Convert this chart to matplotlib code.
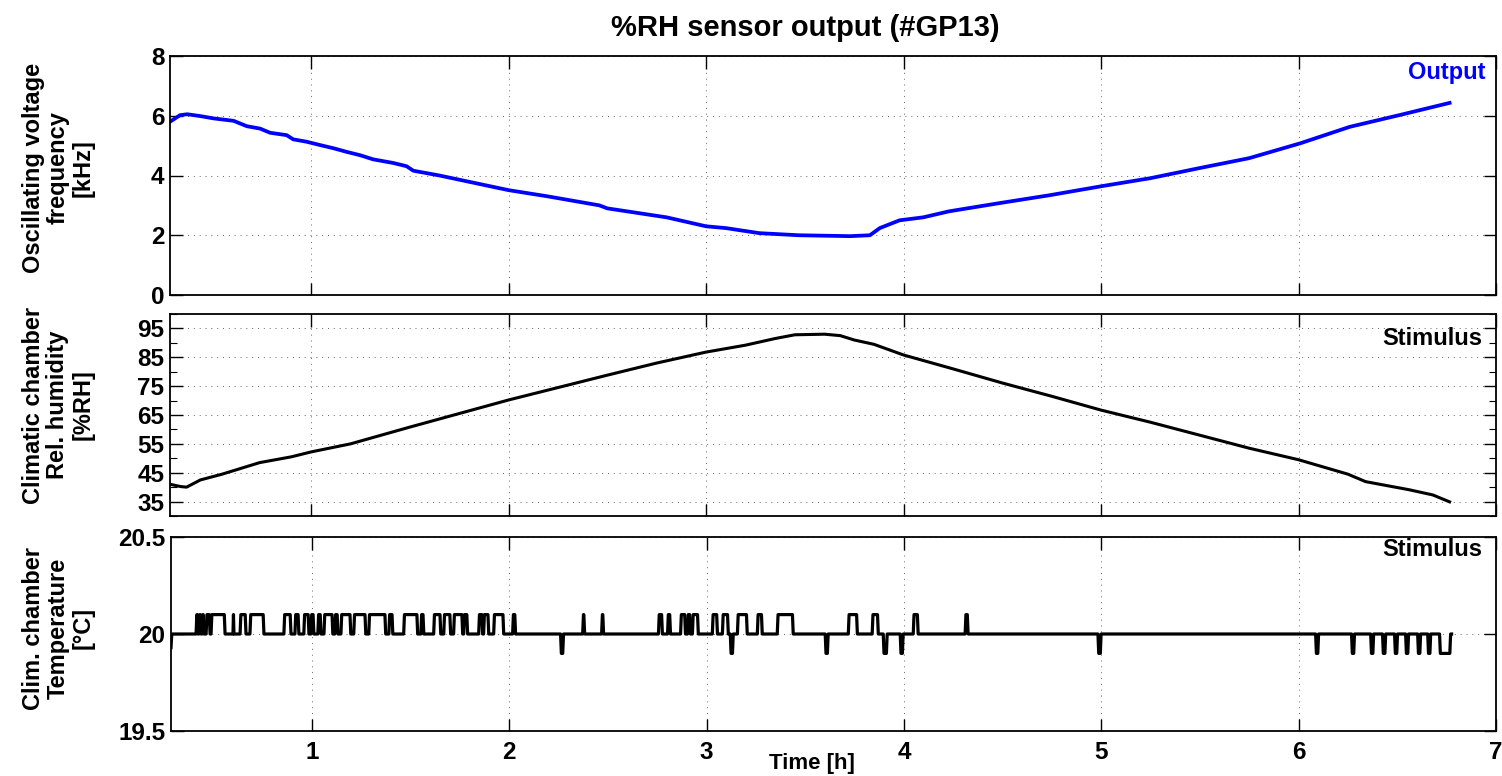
import matplotlib
matplotlib.use("Agg")
import matplotlib.pyplot as plt
from matplotlib.ticker import MultipleLocator

plt.rcParams['font.family'] = ['Liberation Sans', 'DejaVu Sans']
plt.rcParams['font.weight'] = 'bold'

# ---------------- data ----------------
freq_t = [0.286, 0.337, 0.373, 0.438, 0.508, 0.608, 0.675, 0.742, 0.793, 0.877,
          0.910, 0.978, 1.045, 1.115, 1.181, 1.248, 1.315, 1.416, 1.484, 1.518,
          1.65, 1.70, 2.0, 2.2, 2.46, 2.5, 2.7, 2.8, 3.0, 3.1, 3.2, 3.27, 3.47,
          3.73, 3.83, 3.88, 3.98, 4.1, 4.23, 4.49, 4.74, 5.01, 5.25, 5.5, 5.75,
          6.01, 6.26, 6.51, 6.765]
freq_v = [5.80, 6.02, 6.05, 5.99, 5.91, 5.83, 5.65, 5.57, 5.43, 5.35,
          5.21, 5.13, 5.02, 4.91, 4.79, 4.68, 4.54, 4.42, 4.31, 4.16,
          4.0, 3.93, 3.51, 3.3, 3.0, 2.9, 2.7, 2.6, 2.3, 2.24, 2.14, 2.07, 2.0,
          1.97, 2.0, 2.24, 2.5, 2.6, 2.8, 3.08, 3.34, 3.65, 3.91, 4.25, 4.58,
          5.08, 5.63, 6.02, 6.43]

rh_t = [0.286, 0.34, 0.37, 0.44, 0.55, 0.74, 0.9, 1.0, 1.2, 1.5, 1.75, 2.0,
        2.25, 2.5, 2.75, 3.0, 3.2, 3.35, 3.45, 3.6, 3.68, 3.75, 3.85, 4.0,
        4.25, 4.5, 4.75, 5.0, 5.25, 5.5, 5.75, 6.0, 6.25, 6.34, 6.56, 6.68, 6.765]
rh_v = [41.0, 40.2, 40.0, 42.5, 44.5, 48.5, 50.5, 52.2, 55.0, 60.8, 65.5, 70.2,
        74.5, 78.8, 83.0, 86.8, 89.2, 91.5, 92.8, 93.0, 92.5, 91.0, 89.5, 85.8,
        81.0, 76.1, 71.5, 66.7, 62.5, 58.0, 53.5, 49.5, 44.5, 41.9, 39.1, 37.3, 34.9]

temp_t0, temp_t1 = 0.286, 6.775
temp_first = 19.93
temp_base = 20.0
temp_hi, temp_lo = 20.1, 19.9
up_start = [0.413, 0.428, 0.443, 0.464, 0.489, 0.600, 0.636, 0.686, 0.858, 0.914,
            0.959, 0.995, 1.030, 1.061, 1.116, 1.147, 1.212, 1.288, 1.390, 1.465,
            1.552, 1.617, 1.668, 1.718, 1.769, 1.845, 1.870, 1.921, 2.017, 2.372,
            2.468, 2.756, 2.802, 2.868, 2.903, 2.928, 3.029, 3.080, 3.156, 3.257,
            3.358, 3.718, 3.839, 4.047, 4.310]
up_end = [0.423, 0.438, 0.453, 0.484, 0.560, 0.605, 0.666, 0.757, 0.894, 0.934,
          0.985, 1.010, 1.046, 1.106, 1.132, 1.197, 1.273, 1.374, 1.410, 1.536,
          1.567, 1.653, 1.703, 1.764, 1.789, 1.865, 1.896, 1.972, 2.032, 2.382,
          2.478, 2.776, 2.817, 2.893, 2.918, 2.958, 3.055, 3.110, 3.206, 3.282,
          3.439, 3.764, 3.870, 4.072, 4.325]
down_start = [2.260, 3.120, 3.601, 3.895, 3.981, 4.983, 6.086, 6.268, 6.365, 6.425,
              6.486, 6.542, 6.603, 6.654, 6.714]
down_end = [2.275, 3.135, 3.616, 3.915, 3.996, 4.999, 6.101, 6.283, 6.380, 6.441,
            6.501, 6.557, 6.618, 6.669, 6.770]

xticks = [1, 2, 3, 4, 5, 6, 7]

# build temperature trace from the pulse intervals
pulses = [(a, b, temp_hi) for a, b in zip(up_start, up_end)] + \
         [(a, b, temp_lo) for a, b in zip(down_start, down_end)]
pulses.sort()
r = 0.004
temp_x = [temp_t0, temp_t0 + 0.004]
temp_y = [temp_first, temp_base]
for a, b, lvl in pulses:
    temp_x.append(a); temp_y.append(temp_base)
    if b - r > a + r:
        temp_x += [a + r, b - r]; temp_y += [lvl, lvl]
    else:
        temp_x.append((a + b) / 2); temp_y.append(lvl)
    temp_x.append(b); temp_y.append(temp_base)
temp_x.append(temp_t1); temp_y.append(temp_base)

# ---------------- figure ----------------
W, H = 1502, 776
fig = plt.figure(figsize=(W / 100, H / 100), dpi=100)

def box(l, t, r_, b):
    return [l / W, 1 - b / H, (r_ - l) / W, (b - t) / H]

ax1 = fig.add_axes(box(170, 56, 1496, 295))
ax2 = fig.add_axes(box(170, 314, 1496, 516))
ax3 = fig.add_axes(box(171, 537, 1496, 731))

ax1.plot(freq_t, freq_v, color='#0000ff', lw=2.7)
ax2.plot(rh_t, rh_v, color='black', lw=2.2)
ax3.plot(temp_x, temp_y, color='black', lw=2.3)

ax1.set_ylim(0, 8)
ax1.set_yticks([0, 2, 4, 6, 8])
ax2.set_ylim(30, 100)
ax2.set_yticks([35, 45, 55, 65, 75, 85, 95])
ax2.yaxis.set_minor_locator(MultipleLocator(5))
ax3.set_ylim(19.5, 20.5)
ax3.set_yticks([19.5, 20, 20.5])
ax3.set_yticklabels(['19.5', '20', '20.5'])

for ax in (ax1, ax2, ax3):
    ax.set_xlim(0.286, 7)
    ax.set_xticks(xticks)
    ax.grid(True, which='major', color='#666666', linestyle=(0, (1, 5)), lw=0.7)
    ax.tick_params(which='major', direction='in', length=9, width=1.0,
                   top=True, right=True, labelsize=17.5, pad=4, color='black')
    ax.tick_params(which='minor', direction='in', length=5, width=0.8,
                   right=True, left=True)
    for s in ax.spines.values():
        s.set_linewidth(1.3)
    for lab in ax.get_yticklabels():
        lab.set_fontweight('bold')

ax1.tick_params(labelbottom=False)
ax2.tick_params(labelbottom=False)
ax3.tick_params(axis='x', pad=7)
for lab in ax3.get_xticklabels():
    lab.set_fontweight('bold')

lab_kw = dict(fontsize=17, fontweight='bold', linespacing=1.1,
              rotation=90, ha='center', va='center')
fig.text(58 / W, 1 - 168 / H, 'Oscillating voltage\nfrequency\n[kHz]', **lab_kw)
fig.text(58 / W, 1 - 405 / H, 'Climatic chamber\nRel. humidity\n[%RH]', **lab_kw)
fig.text(58 / W, 1 - 628 / H, 'Clim. chamber\nTemperature\n[°C]', **lab_kw)

fig.text(812 / W, 1 - 763 / H, 'Time [h]', ha='center', va='center',
         fontsize=16, fontweight='bold')

ax1.text(0.992, 0.929, 'Output', transform=ax1.transAxes, ha='right', va='center',
         color='#0000ff', fontsize=17, fontweight='bold')
ax2.text(0.990, 0.881, 'Stimulus', transform=ax2.transAxes, ha='right', va='center',
         color='black', fontsize=17, fontweight='bold')
ax3.text(0.990, 0.933, 'Stimulus', transform=ax3.transAxes, ha='right', va='center',
         color='black', fontsize=17, fontweight='bold')

fig.text(805 / W, 1 - 28 / H, '%RH sensor output (#GP13)', ha='center', va='center',
         fontsize=21, fontweight='bold')

fig.savefig('out.png', dpi=100)
